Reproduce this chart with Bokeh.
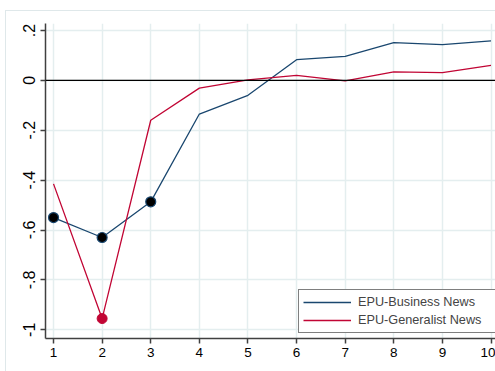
from bokeh.plotting import figure
from bokeh.models import FixedTicker, Span, Legend, LegendItem
from bokeh.embed import file_html
from bokeh.resources import INLINE

# Horizon (periods) and the two EPU response series
periods = [1, 2, 3, 4, 5, 6, 7, 8, 9, 10]
business_news = [-0.550, -0.630, -0.487, -0.135, -0.060, 0.083, 0.096, 0.151, 0.143, 0.158]
generalist_news = [-0.415, -0.955, -0.160, -0.031, 0.002, 0.020, -0.002, 0.034, 0.031, 0.060]

# Periods highlighted with a marker on each series
business_marked = [1, 2, 3]
generalist_marked = [2]

y_ticks = [0.2, 0.0, -0.2, -0.4, -0.6, -0.8, -1.0]
y_tick_labels = [".2", "0", "-.2", "-.4", "-.6", "-.8", "-1"]
x_ticks = periods
series_names = ["EPU-Business News", "EPU-Generalist News"]

BLUE = "#1a476f"
RED = "#c10534"
GRID = "#e4eeef"
AXIS = "#404040"
FONT = "Liberation Sans"

p = figure(
    width=490, height=361,
    x_range=(0.835, 10.113), y_range=(-1.035, 0.228),
    output_backend="svg", toolbar_location=None,
    min_border_left=39, min_border_right=0, min_border_top=12, min_border_bottom=34,
    background_fill_color="white", border_fill_color="white",
)
p.styles = {"margin-left": "5px", "margin-top": "10px",
            "border-left": "1px solid #dfe8ea", "border-top": "1px solid #dfe8ea"}
p.outline_line_color = None

# Axes
p.xaxis.ticker = FixedTicker(ticks=x_ticks)
p.yaxis.ticker = FixedTicker(ticks=y_ticks)
p.yaxis.major_label_overrides = {t: lab for t, lab in zip(y_ticks, y_tick_labels)}
p.yaxis.major_label_orientation = "vertical"
for ax in (p.xaxis, p.yaxis):
    ax.axis_line_color = AXIS
    ax.axis_line_width = 1.5
    ax.major_tick_line_color = AXIS
    ax.major_tick_line_width = 1.5
    ax.major_tick_out = 5
    ax.major_tick_in = 0
    ax.minor_tick_line_color = None
    ax.major_label_text_font = FONT
    ax.major_label_text_color = "black"
p.xaxis.major_label_text_font_size = "13.5px"
p.yaxis.major_label_text_font_size = "16px"
p.xaxis.major_label_standoff = 4
p.yaxis.major_label_standoff = 5

p.xgrid.ticker = FixedTicker(ticks=x_ticks)
p.ygrid.ticker = FixedTicker(ticks=y_ticks)
p.xgrid.grid_line_color = GRID
p.ygrid.grid_line_color = GRID
p.xgrid.grid_line_width = 1.5
p.ygrid.grid_line_width = 1.5

# Zero reference line
p.add_layout(Span(location=0, dimension="width", line_color="black", line_width=1.2))

# Series lines
r_bus = p.line(periods, business_news, line_color=BLUE, line_width=1.3)
r_gen = p.line(periods, generalist_news, line_color=RED, line_width=1.3)

# Highlighted points
bx = [x for x in business_marked]
by = [business_news[periods.index(x)] for x in business_marked]
gx = [x for x in generalist_marked]
gy = [generalist_news[periods.index(x)] for x in generalist_marked]
p.scatter(bx, by, size=10, fill_color="black", line_color=BLUE, line_width=1.2)
p.scatter(gx, gy, size=10, fill_color=RED, line_color=RED, line_width=1)

legend = Legend(
    items=[LegendItem(label=series_names[0], renderers=[r_bus]),
           LegendItem(label=series_names[1], renderers=[r_gen])],
    location=(253, 5), margin=0, padding=4, spacing=2,
    glyph_width=48, glyph_height=16, label_height=16, label_width=133,
    label_standoff=7,
    label_text_font=FONT, label_text_font_size="12.7px",
    border_line_color="black", border_line_width=1,
    background_fill_color="white", background_fill_alpha=1,
)
p.add_layout(legend)

open("out.html", "w").write(file_html(p, INLINE))
